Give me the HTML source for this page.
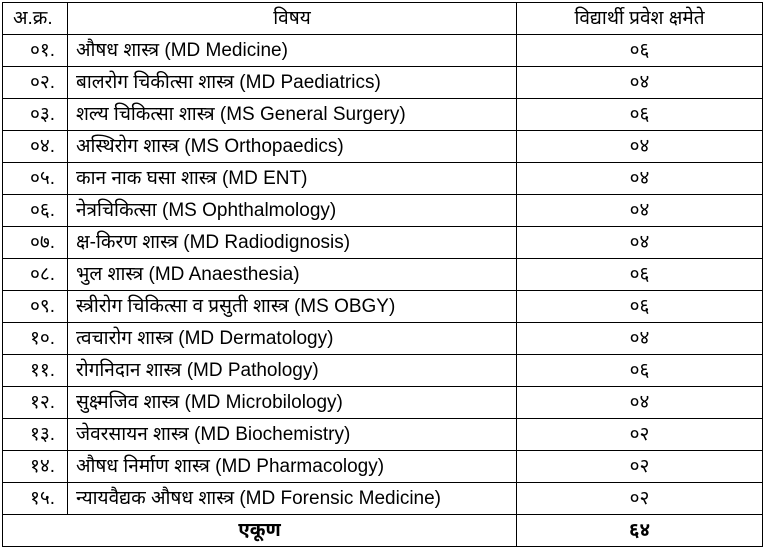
<!DOCTYPE html>
<html><head><meta charset="utf-8"><style>
body{margin:0;background:#fff;width:764px;height:550px;overflow:hidden}
table{position:absolute;left:2px;top:2px;border-collapse:collapse;table-layout:fixed;width:760px;font-family:"Liberation Sans","Noto Sans Devanagari","Lohit Devanagari",sans-serif;font-size:19px;color:#000}
td{border:1.5px solid #000;height:32px;box-sizing:border-box;padding:0 8px;white-space:nowrap;overflow:hidden;line-height:20px}
td.a{text-align:right;padding-right:12px}
td.c{text-align:center}
tr.h td{text-align:center}
tr.h td.a{text-align:left;padding-left:10px}
tr.t td{font-weight:bold}
</style></head><body>
<table>
<colgroup><col style="width:65px"><col style="width:449px"><col style="width:246px"></colgroup>
<tr class="h"><td class="a">अ.क्र.</td><td class="b">विषय</td><td class="c">विद्यार्थी प्रवेश क्षमेते</td></tr>
<tr><td class="a">०१.</td><td class="b">औषध शास्त्र (MD Medicine)</td><td class="c">०६</td></tr>
<tr><td class="a">०२.</td><td class="b">बालरोग चिकीत्सा शास्त्र (MD Paediatrics)</td><td class="c">०४</td></tr>
<tr><td class="a">०३.</td><td class="b">शल्य चिकित्सा शास्त्र (MS General Surgery)</td><td class="c">०६</td></tr>
<tr><td class="a">०४.</td><td class="b">अस्थिरोग शास्त्र (MS Orthopaedics)</td><td class="c">०४</td></tr>
<tr><td class="a">०५.</td><td class="b">कान नाक घसा शास्त्र (MD ENT)</td><td class="c">०४</td></tr>
<tr><td class="a">०६.</td><td class="b">नेत्रचिकित्सा (MS Ophthalmology)</td><td class="c">०४</td></tr>
<tr><td class="a">०७.</td><td class="b">क्ष-किरण शास्त्र (MD Radiodignosis)</td><td class="c">०४</td></tr>
<tr><td class="a">०८.</td><td class="b">भुल शास्त्र (MD Anaesthesia)</td><td class="c">०६</td></tr>
<tr><td class="a">०९.</td><td class="b">स्त्रीरोग चिकित्सा व प्रसुती शास्त्र (MS OBGY)</td><td class="c">०६</td></tr>
<tr><td class="a">१०.</td><td class="b">त्वचारोग शास्त्र (MD Dermatology)</td><td class="c">०४</td></tr>
<tr><td class="a">११.</td><td class="b">रोगनिदान शास्त्र (MD Pathology)</td><td class="c">०६</td></tr>
<tr><td class="a">१२.</td><td class="b">सुक्ष्मजिव शास्त्र (MD Microbilology)</td><td class="c">०४</td></tr>
<tr><td class="a">१३.</td><td class="b">जेवरसायन शास्त्र (MD Biochemistry)</td><td class="c">०२</td></tr>
<tr><td class="a">१४.</td><td class="b">औषध निर्माण शास्त्र (MD Pharmacology)</td><td class="c">०२</td></tr>
<tr><td class="a">१५.</td><td class="b">न्यायवैद्यक औषध शास्त्र (MD Forensic Medicine)</td><td class="c">०२</td></tr>
<tr class="t"><td colspan="2" style="text-align:center">एकूण</td><td class="c">६४</td></tr>
</table>
</body></html>
